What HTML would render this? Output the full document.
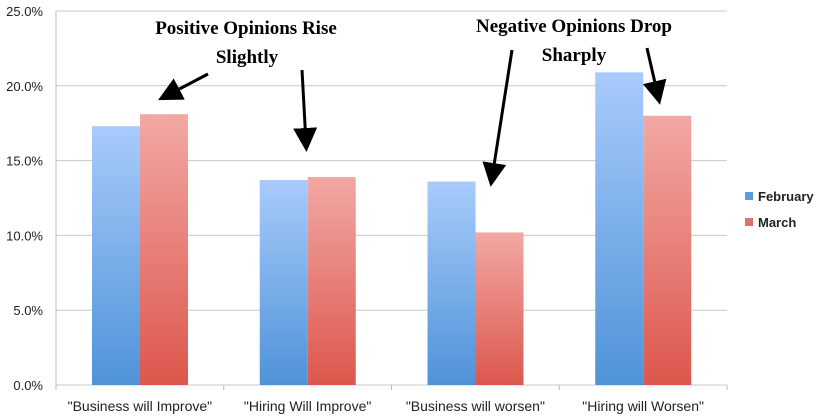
<!DOCTYPE html>
<html><head><meta charset="utf-8"><style>
body{margin:0;background:#fff;}
svg{display:block;font-family:"Liberation Sans",sans-serif;}
</style></head><body>
<svg id="chart" width="827" height="416">
<defs>
<linearGradient id="gb" x1="0" y1="0" x2="0" y2="1"><stop offset="0" stop-color="#a8cbfb"/><stop offset="1" stop-color="#4f93d8"/></linearGradient>
<linearGradient id="gr" x1="0" y1="0" x2="0" y2="1"><stop offset="0" stop-color="#f2a8a4"/><stop offset="1" stop-color="#dc574d"/></linearGradient>
<marker id="ah" markerWidth="8" markerHeight="8" refX="5" refY="4" orient="auto" markerUnits="strokeWidth"><path d="M0,0 L8,4 L0,8 Z" fill="#000"/></marker>
</defs>
<g id="grid"></g><g id="bars"></g><g id="labels"></g>
<g>
<rect x="745" y="192" width="8" height="8" fill="#5b9be0"/>
<text x="758" y="201" font-size="13" font-weight="bold" fill="#222">February</text>
<rect x="745" y="218" width="8" height="8" fill="#e0706a"/>
<text x="758" y="227" font-size="13" font-weight="bold" fill="#222">March</text>
</g>
<g font-family="'Liberation Serif',serif" font-weight="bold" font-size="19" text-anchor="middle" fill="#000">
<text x="246" y="34">Positive Opinions Rise</text>
<text x="247" y="63">Slightly</text>
<text x="574" y="32">Negative Opinions Drop</text>
<text x="574" y="61">Sharply</text>
</g>
<g stroke="#000" stroke-width="3" marker-end="url(#ah)">
<line x1="208" y1="74" x2="166" y2="96"/>
<line x1="302" y1="70" x2="306" y2="143"/>
<line x1="512" y1="50" x2="492" y2="178"/>
<line x1="647" y1="48" x2="658" y2="96"/>
</g>
</svg>
<script>
const categories=['"Business will Improve"','"Hiring Will Improve"','"Business will worsen"','"Hiring will Worsen"'];
const february=[17.3,13.7,13.6,20.9];
const march=[18.1,13.9,10.2,18.0];
const ticks=[0,5,10,15,20,25];
const NS="http://www.w3.org/2000/svg";
const x0=56,x1=727,y0=385,yTop=11,ymax=25;
const bw=(x1-x0)/categories.length;
function y(v){return y0-(v/ymax)*(y0-yTop);}
function mk(t,a,p){const e=document.createElementNS(NS,t);for(const k in a)e.setAttribute(k,a[k]);p.appendChild(e);return e;}
const g=document.getElementById('grid');
ticks.forEach(t=>{
 const l=mk('line',{x1:x0,x2:x1,y1:y(t),y2:y(t),stroke:'#c8c8c8','stroke-width':1},g);
 
 
 const tx=mk('text',{x:43,y:y(t)+5,'text-anchor':'end','font-size':13,fill:'#222'},g);
 tx.textContent=t.toFixed(1)+'%';
 
 
});
const ax=mk('line',{x1:x0,x2:x0,y1:yTop,y2:y0,stroke:'#bbb'},g);


for(let i=0;i<=categories.length;i++){
 const tk=mk('line',{x1:x0+i*bw,x2:x0+i*bw,y1:y0,y2:y0+5,stroke:'#bbb'},g);
 
 
}
const b=document.getElementById('bars'),lb=document.getElementById('labels');
categories.forEach((c,i)=>{
 const cx=x0+i*bw;
 const w=48,off=36;
 const r1=mk('rect',{x:cx+off,y:y(february[i]),width:w,height:y0-y(february[i]),fill:'url(#gb)'},b);
 
 
 const r2=mk('rect',{x:cx+off+w,y:y(march[i]),width:w,height:y0-y(march[i]),fill:'url(#gr)'},b);
 
 
 const t=mk('text',{x:cx+bw/2,y:411,'text-anchor':'middle','font-size':14,fill:'#222'},lb);
 t.textContent=c;
 
 
});
</script>
</body></html>
